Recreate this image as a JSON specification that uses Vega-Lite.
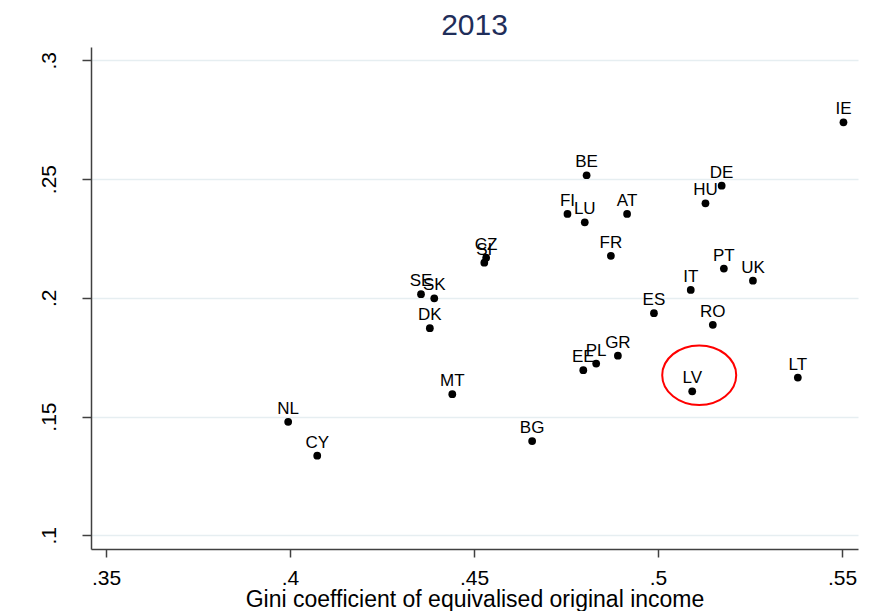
{
  "$schema": "https://vega.github.io/schema/vega-lite/v6.json",
  "autosize": {"type": "none"},
  "padding": {"left": 91, "top": 47, "right": 12, "bottom": 62},
  "width": 767,
  "height": 502,
  "background": "white",
  "config": {"view": {"stroke": null}, "font": "Liberation Sans"},
  "title": {"text": "2013", "fontSize": 30, "font": "Liberation Sans", "fontWeight": "normal", "color": "#1f2e5a", "baseline": "alphabetic", "offset": 12, "dy": 30, "anchor": "middle"},
  "datasets": {
    "countries": [
      {"country": "NL", "gini": 0.3995, "share": 0.1478},
      {"country": "CY", "gini": 0.4074, "share": 0.1335},
      {"country": "MT", "gini": 0.4441, "share": 0.1594},
      {"country": "DK", "gini": 0.4380, "share": 0.1872},
      {"country": "SE", "gini": 0.4356, "share": 0.2015},
      {"country": "SK", "gini": 0.4392, "share": 0.1998},
      {"country": "SI", "gini": 0.4528, "share": 0.2148},
      {"country": "CZ", "gini": 0.4533, "share": 0.2169},
      {"country": "BE", "gini": 0.4806, "share": 0.2516},
      {"country": "FI", "gini": 0.4754, "share": 0.2353},
      {"country": "LU", "gini": 0.4801, "share": 0.2318},
      {"country": "AT", "gini": 0.4916, "share": 0.2353},
      {"country": "FR", "gini": 0.4872, "share": 0.2177},
      {"country": "ES", "gini": 0.4989, "share": 0.1935},
      {"country": "RO", "gini": 0.5149, "share": 0.1886},
      {"country": "EE", "gini": 0.4797, "share": 0.1695},
      {"country": "PL", "gini": 0.4832, "share": 0.1723},
      {"country": "GR", "gini": 0.4891, "share": 0.1756},
      {"country": "LV", "gini": 0.5093, "share": 0.1606},
      {"country": "LT", "gini": 0.5380, "share": 0.1664},
      {"country": "IE", "gini": 0.5504, "share": 0.2739},
      {"country": "DE", "gini": 0.5173, "share": 0.2472},
      {"country": "HU", "gini": 0.5129, "share": 0.2398},
      {"country": "PT", "gini": 0.5179, "share": 0.2123},
      {"country": "UK", "gini": 0.5258, "share": 0.2072},
      {"country": "IT", "gini": 0.5089, "share": 0.2033},
      {"country": "BG", "gini": 0.4658, "share": 0.1397}
    ],
    "highlight": [
      {"gini": 0.5112, "share": 0.1674}
    ]
  },
  "encoding": {
    "x": {
      "field": "gini", "type": "quantitative",
      "scale": {"domain": [0.34592, 0.55435], "nice": false, "zero": false},
      "axis": {
        "values": [0.35, 0.4, 0.45, 0.5, 0.55],
        "labelExpr": "replace(format(datum.value, '.2~f'), '0.', '.')",
        "title": "Gini coefficient of equivalised original income",
        "grid": false, "tickSize": 8, "labelPadding": 10, "labelFontSize": 21,
        "labelFlush": false, "labelOverlap": false,
        "titleFontSize": 23, "titlePadding": 0, "titleFontWeight": "normal",
        "domainColor": "#404040", "tickColor": "#404040", "domainWidth": 1.5, "tickWidth": 1.5,
        "labelColor": "black", "titleColor": "black",
        "labelFont": "Liberation Sans", "titleFont": "Liberation Sans"
      }
    },
    "y": {
      "field": "share", "type": "quantitative",
      "scale": {"domain": [0.09423, 0.3056], "nice": false, "zero": false},
      "axis": {
        "values": [0.1, 0.15, 0.2, 0.25, 0.3],
        "labelExpr": "replace(format(datum.value, '.2~f'), '0.', '.')",
        "title": null,
        "grid": true, "gridColor": "#e6eef1", "gridWidth": 1.5,
        "tickSize": 9, "labelAngle": -90, "labelAlign": "center", "labelBaseline": "alphabetic",
        "labelPadding": 27, "labelFontSize": 21, "labelFlush": false, "labelOverlap": false,
        "domainColor": "#404040", "tickColor": "#404040", "domainWidth": 1.5, "tickWidth": 1.5,
        "labelColor": "black", "labelFont": "Liberation Sans"
      }
    }
  },
  "layer": [
    {
      "data": {"name": "countries"},
      "mark": {"type": "circle", "size": 60, "color": "black", "opacity": 1}
    },
    {
      "data": {"name": "countries"},
      "mark": {"type": "text", "dy": -8, "fontSize": 17, "baseline": "alphabetic", "align": "center", "color": "black", "font": "Liberation Sans"},
      "encoding": {"text": {"field": "country"}}
    },
    {
      "data": {"name": "highlight"},
      "mark": {
        "type": "point",
        "shape": "M -1.2416 0 C -1.2416 -0.5523 -0.6857 -1 0 -1 C 0.6857 -1 1.2416 -0.5523 1.2416 0 C 1.2416 0.5523 0.6857 1 0 1 C -0.6857 1 -1.2416 0.5523 -1.2416 0 Z",
        "size": 3552, "filled": false, "stroke": "red", "strokeWidth": 2, "opacity": 1
      }
    }
  ]
}
